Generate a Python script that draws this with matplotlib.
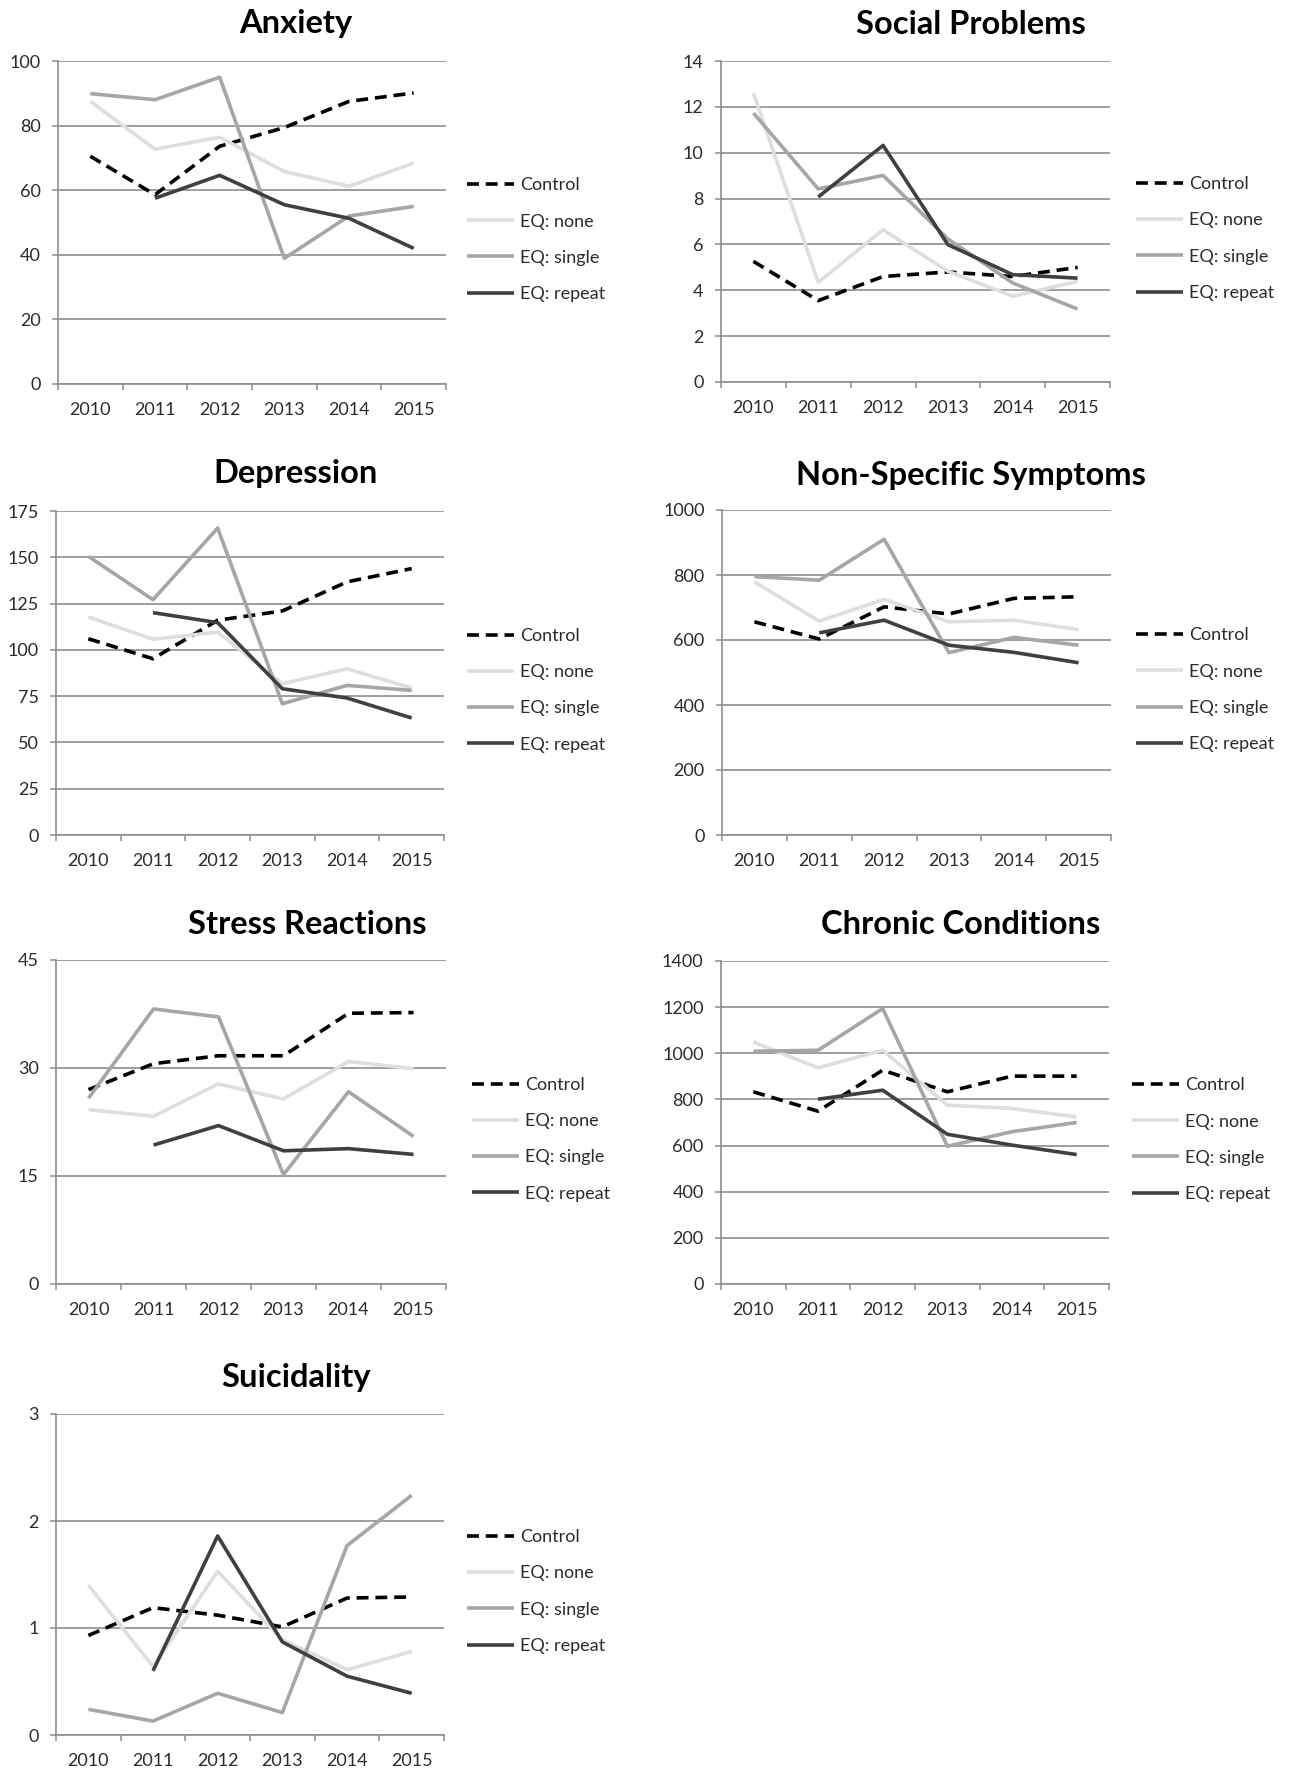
import numpy as np
import matplotlib
matplotlib.use("Agg")
import matplotlib.pyplot as plt

plt.rcParams["font.family"] = ["Lato", "DejaVu Sans"]

years = ["2010", "2011", "2012", "2013", "2014", "2015"]
series_names = ["Control", "EQ: none", "EQ: single", "EQ: repeat"]
nan = np.nan

# values, one list per series
anxiety_control = [70.5, 58.6, 73.6, 79.4, 87.5, 90.1]
anxiety_none = [87.5, 72.7, 76.4, 65.8, 61.2, 68.4]
anxiety_single = [89.9, 88.0, 95.0, 38.9, 52.0, 55.0]
anxiety_repeat = [nan, 57.5, 64.6, 55.5, 51.3, 42.0]

social_control = [5.26, 3.55, 4.6, 4.8, 4.6, 5.0]
social_none = [12.6, 4.35, 6.64, 4.83, 3.74, 4.39]
social_single = [11.73, 8.42, 9.01, 6.24, 4.32, 3.18]
social_repeat = [nan, 8.07, 10.32, 5.99, 4.68, 4.53]

depression_control = [106.0, 95.2, 116.0, 121.0, 136.7, 143.9]
depression_none = [117.8, 105.7, 109.6, 81.7, 89.8, 79.4]
depression_single = [150.5, 127.1, 165.8, 70.9, 80.8, 78.1]
depression_repeat = [nan, 120.1, 114.7, 79.0, 74.0, 63.2]

nonspec_control = [656, 603, 702, 680, 728, 733]
nonspec_none = [779, 658, 725, 656, 661, 632]
nonspec_single = [795, 784, 910, 561, 608, 584]
nonspec_repeat = [nan, 622, 661, 584, 562, 530]

stress_control = [27.0, 30.6, 31.7, 31.7, 37.6, 37.7]
stress_none = [24.2, 23.3, 27.8, 25.7, 30.9, 29.9]
stress_single = [25.8, 38.2, 37.1, 15.2, 26.7, 20.5]
stress_repeat = [nan, 19.3, 22.0, 18.5, 18.8, 18.0]

chronic_control = [833, 749, 927, 833, 901, 901]
chronic_none = [1049, 937, 1013, 775, 761, 724]
chronic_single = [1009, 1013, 1194, 597, 660, 700]
chronic_repeat = [nan, 801, 840, 649, 602, 561]

suicid_control = [0.93, 1.19, 1.12, 1.01, 1.28, 1.29]
suicid_none = [1.40, 0.64, 1.53, 0.89, 0.61, 0.78]
suicid_single = [0.24, 0.13, 0.39, 0.21, 1.77, 2.24]
suicid_repeat = [nan, 0.60, 1.86, 0.87, 0.55, 0.39]

titles = ["Anxiety", "Social Problems", "Depression", "Non-Specific Symptoms",
          "Stress Reactions", "Chronic Conditions", "Suicidality"]
panel_data = [
    [anxiety_control, anxiety_none, anxiety_single, anxiety_repeat],
    [social_control, social_none, social_single, social_repeat],
    [depression_control, depression_none, depression_single, depression_repeat],
    [nonspec_control, nonspec_none, nonspec_single, nonspec_repeat],
    [stress_control, stress_none, stress_single, stress_repeat],
    [chronic_control, chronic_none, chronic_single, chronic_repeat],
    [suicid_control, suicid_none, suicid_single, suicid_repeat],
]
y_max = [100, 14, 175, 1000, 45, 1400, 3]
y_step = [20, 2, 25, 200, 15, 200, 1]

# layout in pixels: axes box (left, top, right, bottom), title centre, legend left edge
W, H = 1292, 1771
boxes = [(58, 61, 446, 384), (721, 61, 1110, 382),
         (56, 511, 444, 835), (722, 510, 1111, 835),
         (56, 960, 446, 1284), (721, 961, 1109, 1284),
         (56, 1414, 444, 1735)]
title_pos = [(296, 24), (971, 24), (296, 474), (971, 475),
             (307, 924), (961, 924), (296, 1377)]
legend_x = [467, 1136, 467, 1136, 472, 1132, 467]

colors = ["black", "#dedede", "#a6a6a6", "#404040"]
styles = [(0, (3.3, 1.9)), "-", "-", "-"]
grid_c = "#8e8e8e"
text_c = "#2b2b2b"

fig = plt.figure(figsize=(W / 100, H / 100), dpi=100)
x = np.arange(len(years))

for i, title in enumerate(titles):
    l, t, r, b = boxes[i]
    ax = fig.add_axes([l / W, 1 - b / H, (r - l) / W, (b - t) / H])
    for vals, name, c, ls in zip(panel_data[i], series_names, colors, styles):
        ax.plot(x, vals, color=c, linestyle=ls, lw=2.6, label=name,
                solid_capstyle="butt", dash_capstyle="butt")

    ax.set_xlim(-0.5, 5.5)
    ax.set_ylim(0, y_max[i])
    ax.set_yticks(np.arange(0, y_max[i] + y_step[i] / 2, y_step[i]))
    ax.yaxis.grid(True, color=grid_c, lw=1.2)
    ax.set_axisbelow(True)

    ax.set_xticks(np.arange(-0.5, 6, 1))
    ax.set_xticklabels([])
    ax.set_xticks(x, minor=True)
    ax.set_xticklabels(years, minor=True)
    ax.tick_params(axis="x", which="major", length=4.5, width=1.1, color=grid_c, direction="out")
    ax.tick_params(axis="x", which="minor", length=0, pad=13, labelsize=13, labelcolor=text_c)
    ax.tick_params(axis="y", length=4.5, width=1.1, color=grid_c, pad=8, labelsize=13,
                   labelcolor=text_c)

    for s in ["top", "right"]:
        ax.spines[s].set_visible(False)
    for s in ["left", "bottom"]:
        ax.spines[s].set_color(grid_c)
        ax.spines[s].set_linewidth(1.2)

    tx, ty = title_pos[i]
    fig.text(tx / W, 1 - ty / H, title, ha="center", va="center",
             fontsize=23.5, fontweight="bold", color="black")

    lx = (legend_x[i] - l) / (r - l)
    ax.legend(loc="center left", bbox_to_anchor=(lx, 0.447), frameon=False,
              borderpad=0, borderaxespad=0, handlelength=2.6, handletextpad=0.35,
              labelspacing=1.12, fontsize=13, labelcolor=text_c)

fig.savefig("out.png", dpi=100, facecolor="white")
